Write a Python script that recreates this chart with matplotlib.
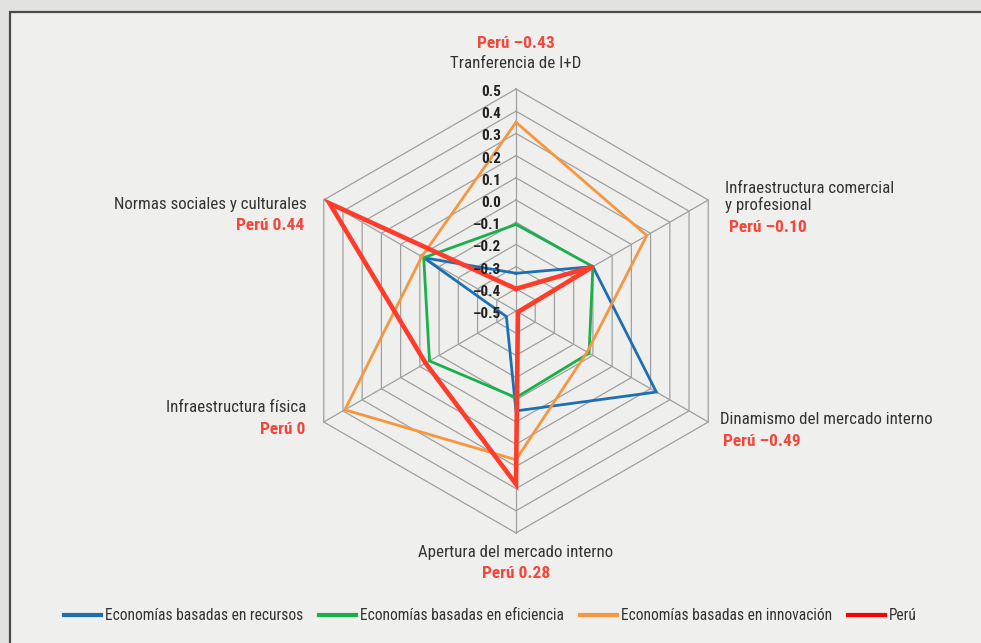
import numpy as np
import matplotlib
matplotlib.use('Agg')
import matplotlib.pyplot as plt
from matplotlib.patches import Rectangle

plt.rcParams['font.family'] = ['Roboto Condensed', 'Liberation Sans Narrow', 'Liberation Sans']

categories = ['Tranferencia de I+D', 'Infraestructura comercial\ny profesional',
              'Dinamismo del mercado interno', 'Apertura del mercado interno',
              'Infraestructura física', 'Normas sociales y culturales']
peru_labels = ['Perú –0.43', 'Perú –0.10', 'Perú –0.49', 'Perú 0.28', 'Perú 0', 'Perú 0.44']

recursos = [-0.33, -0.10, 0.23, -0.05, -0.45, -0.02]
eficiencia = [-0.11, -0.10, -0.12, -0.11, -0.05, -0.02]
innovacion = [0.35, 0.18, -0.13, 0.17, 0.39, -0.01]
peru = [-0.40, -0.10, -0.49, 0.28, -0.03, 0.47]

series_names = ['Economías basadas en recursos', 'Economías basadas en eficiencia',
                'Economías basadas en innovación', 'Perú']
ticks = [0.5, 0.4, 0.3, 0.2, 0.1, 0.0, -0.1, -0.2, -0.3, -0.4, -0.5]
vmin, vmax = -0.5, 0.5

W, H = 981, 643
cx, cy, R = 516, 311, 222  # pixel centre and radius of the web

fig = plt.figure(figsize=(W / 100, H / 100), dpi=100)
fig.patch.set_facecolor('#e2e2e1')
fig.patches.append(Rectangle((9.5 / W, -0.1), 1, 1.1 - 12.5 / H, transform=fig.transFigure,
                             facecolor='#efefed', edgecolor='#4a4a4a', lw=1.6, zorder=-5))

ax = fig.add_axes([0, 0, 1, 1])
ax.set_xlim(-cx / R, (W - cx) / R)
ax.set_ylim(-(H - cy) / R, cy / R)
ax.axis('off')
ax.set_zorder(2)


def px(x, y):
    return (x - cx) / R, (cy - y) / R


angles = np.deg2rad([90, 30, -30, -90, -150, 150])


def to_xy(vals):
    r = (np.asarray(vals) - vmin) / (vmax - vmin)
    x = r * np.cos(angles)
    y = r * np.sin(angles)
    return np.append(x, x[0]), np.append(y, y[0])


# hexagonal grid
for t in ticks[:-1]:
    gx, gy = to_xy([t] * 6)
    ax.plot(gx, gy, color='#a0a0a0', lw=0.9, zorder=1)
for a in angles:
    ax.plot([0, np.cos(a)], [0, np.sin(a)], color='#a0a0a0', lw=0.9, zorder=1)

# tick labels on the vertical axis
for t in ticks:
    r = (t - vmin) / (vmax - vmin)
    lab = f'{abs(t):.1f}' if t >= 0 else f'–{abs(t):.1f}'
    ax.text(-15 / R, r - 3 / R, lab, ha='right', va='center', fontsize=11,
            fontweight='bold', color='#222222', zorder=4)

colors = ['#1c6fb5', '#19b04b', '#f7963f', '#ff3b2a']
widths = [2.0, 2.0, 2.0, 3.3]
for vals, c, w in zip([recursos, eficiencia, innovacion, peru], colors, widths):
    x, y = to_xy(vals)
    ax.plot(x, y, color=c, lw=w, zorder=3, solid_joinstyle='miter')

# category labels
red = '#f5463a'
fs = 12.2
pfs = 12.5
txt = '#333333'
ax.text(*px(516, 43), peru_labels[0], ha='center', va='center', fontsize=pfs,
        fontweight='bold', color=red)
ax.text(*px(516, 64), categories[0], ha='center', va='center', fontsize=fs, color=txt)

ax.text(*px(725, 197), categories[1], ha='left', va='center', fontsize=fs, color=txt,
        linespacing=1.05)
ax.text(*px(729, 228), peru_labels[1], ha='left', va='center', fontsize=pfs,
        fontweight='bold', color=red)

ax.text(*px(720, 420), categories[2], ha='left', va='center', fontsize=fs, color=txt)
ax.text(*px(723, 442), peru_labels[2], ha='left', va='center', fontsize=pfs,
        fontweight='bold', color=red)

ax.text(*px(516, 552), categories[3], ha='center', va='center', fontsize=fs, color=txt)
ax.text(*px(516, 573), peru_labels[3], ha='center', va='center', fontsize=pfs,
        fontweight='bold', color=red)

ax.text(*px(306, 408), categories[4], ha='right', va='center', fontsize=fs, color=txt)
ax.text(*px(305, 430), peru_labels[4], ha='right', va='center', fontsize=pfs,
        fontweight='bold', color=red)

ax.text(*px(307, 204), categories[5], ha='right', va='center', fontsize=fs, color=txt)
ax.text(*px(304, 226), peru_labels[5], ha='right', va='center', fontsize=pfs,
        fontweight='bold', color=red)

# legend
leg_colors = ['#1c6fb5', '#19b04b', '#f7963f', '#ff0000']
handles = [plt.Line2D([], [], color=c, lw=3) for c in leg_colors]
fig.legend(handles, series_names, loc='center', bbox_to_anchor=(0.5, 1 - 616 / H), ncol=4,
           frameon=False, fontsize=11.2, handlelength=2.4, handletextpad=0.25, columnspacing=1.0,
           labelcolor=txt)

fig.savefig('out.png', dpi=100, facecolor=fig.get_facecolor())
